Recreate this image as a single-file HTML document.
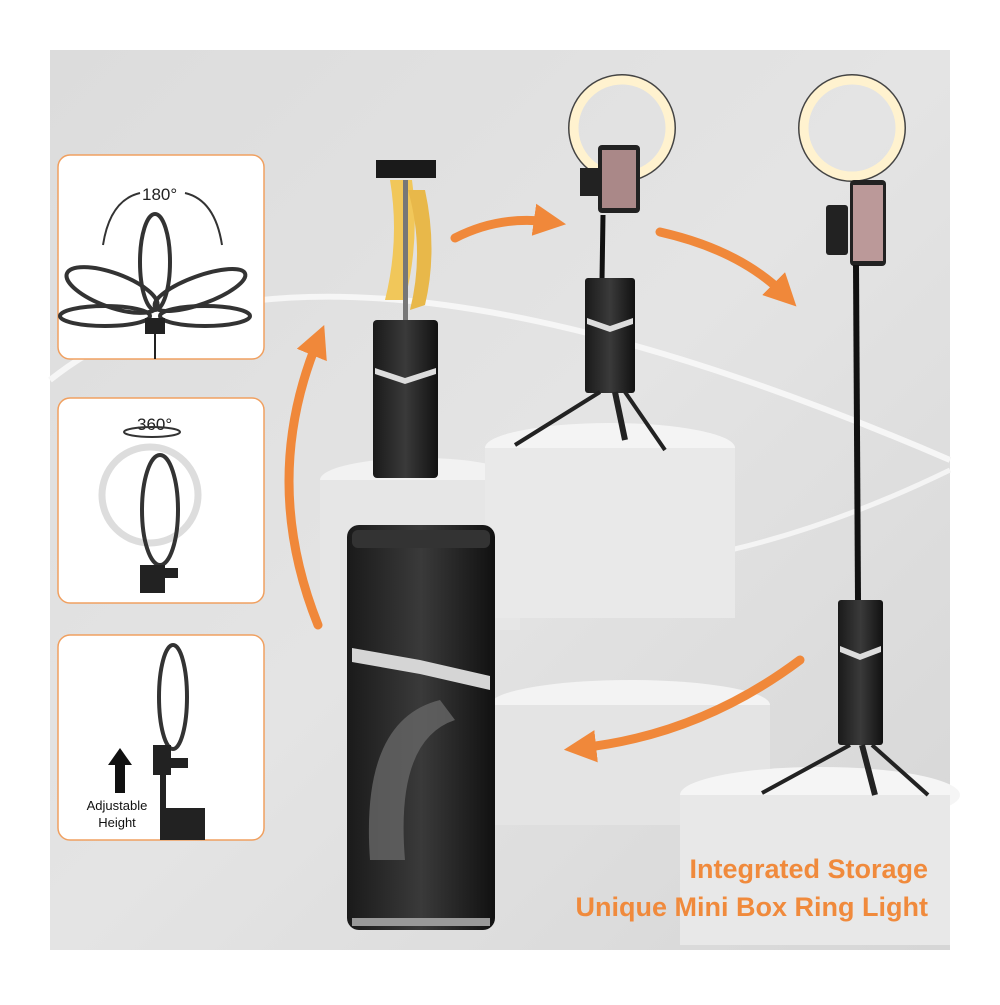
<!DOCTYPE html>
<html><head><style>
body{margin:0;width:1000px;height:1000px;background:#fff;overflow:hidden;font-family:"Liberation Sans",sans-serif}
</style></head><body>
<svg width="1000" height="1000" viewBox="0 0 1000 1000" xmlns="http://www.w3.org/2000/svg">
<defs>
<linearGradient id="bg" x1="0" y1="0" x2="1" y2="1"><stop offset="0" stop-color="#dcdcdc"/><stop offset="0.5" stop-color="#e4e4e4"/><stop offset="1" stop-color="#d6d6d6"/></linearGradient>
<linearGradient id="box" x1="0" y1="0" x2="1" y2="0"><stop offset="0" stop-color="#1a1a1a"/><stop offset="0.5" stop-color="#3a3a3a"/><stop offset="1" stop-color="#111"/></linearGradient>
<marker id="ah" viewBox="0 0 10 10" refX="5" refY="5" markerWidth="3.6" markerHeight="3.6" orient="auto"><path d="M0,0L10,5L0,10z" fill="#f0883a"/></marker>
</defs>
<rect x="50" y="50" width="900" height="900" fill="url(#bg)"/>
<path d="M50,380 Q300,180 950,460" stroke="#f6f6f6" stroke-width="6" fill="none"/>
<path d="M330,520 Q600,640 950,470" stroke="#f4f4f4" stroke-width="5" fill="none"/>
<ellipse cx="420" cy="480" rx="100" ry="22" fill="#f2f2f2"/>
<rect x="320" y="480" width="200" height="150" fill="#e6e6e6"/>
<ellipse cx="610" cy="448" rx="125" ry="25" fill="#f4f4f4"/>
<rect x="485" y="448" width="250" height="170" fill="#e9e9e9"/>
<ellipse cx="630" cy="705" rx="140" ry="25" fill="#f3f3f3"/>
<rect x="490" y="705" width="280" height="120" fill="#e4e4e4"/>
<ellipse cx="820" cy="795" rx="140" ry="28" fill="#f5f5f5"/>
<rect x="680" y="795" width="270" height="150" fill="#e8e8e8"/>
<rect x="58" y="155" width="206" height="204" rx="12" fill="#fff" stroke="#f0a060" stroke-width="1.5"/>
<rect x="58" y="398" width="206" height="205" rx="12" fill="#fff" stroke="#f0a060" stroke-width="1.5"/>
<rect x="58" y="635" width="206" height="205" rx="12" fill="#fff" stroke="#f0a060" stroke-width="1.5"/>
<text x="142" y="200" font-size="17" fill="#222">180°</text>
<path d="M140,193 Q110,200 103,245" stroke="#333" stroke-width="2" fill="none"/>
<path d="M185,193 Q215,200 222,245" stroke="#333" stroke-width="2" fill="none"/>
<g fill="none" stroke="#333" stroke-width="4">
<ellipse cx="155" cy="262" rx="15" ry="48"/>
<ellipse cx="112" cy="290" rx="48" ry="17" transform="rotate(20 112 290)"/>
<ellipse cx="200" cy="290" rx="48" ry="14" transform="rotate(-20 200 290)"/>
<ellipse cx="105" cy="316" rx="45" ry="10"/>
<ellipse cx="205" cy="316" rx="45" ry="10"/>
</g>
<rect x="145" y="318" width="20" height="16" fill="#222"/><line x1="155" y1="334" x2="155" y2="359" stroke="#222" stroke-width="2"/>
<text x="137" y="430" font-size="17" fill="#222">360°</text>
<ellipse cx="152" cy="432" rx="28" ry="5" stroke="#333" stroke-width="2" fill="none"/>
<ellipse cx="150" cy="495" rx="48" ry="48" stroke="#ddd" stroke-width="7" fill="none"/>
<ellipse cx="160" cy="510" rx="18" ry="55" stroke="#333" stroke-width="4" fill="none"/>
<rect x="140" y="565" width="25" height="28" fill="#222"/><rect x="160" y="568" width="18" height="10" fill="#222"/>
<ellipse cx="173" cy="697" rx="14" ry="52" stroke="#333" stroke-width="4" fill="none"/>
<rect x="153" y="745" width="18" height="30" fill="#222"/><rect x="170" y="758" width="18" height="10" fill="#222"/>
<rect x="160" y="775" width="6" height="35" fill="#222"/>
<rect x="160" y="808" width="45" height="32" fill="#222"/>
<path d="M115,793 L115,765 L108,765 L120,748 L132,765 L125,765 L125,793z" fill="#111"/>
<text x="117" y="810" font-size="13" fill="#111" text-anchor="middle">Adjustable</text>
<text x="117" y="827" font-size="13" fill="#111" text-anchor="middle">Height</text>
<g stroke="#f0883a" stroke-width="9" fill="none" stroke-linecap="round" marker-end="url(#ah)">
<path d="M318,625 Q260,480 318,340"/>
<path d="M455,238 Q500,215 550,222"/>
<path d="M660,232 Q740,250 785,295"/>
<path d="M800,660 Q700,735 580,748"/>
</g>
<rect x="376" y="160" width="60" height="18" fill="#1a1a1a"/>
<path d="M390,180 Q400,240 385,300 L405,300 Q420,240 412,180z" fill="#f1c75a"/>
<path d="M408,190 Q425,250 410,310 L425,305 Q438,250 425,190z" fill="#e8b84a"/>
<rect x="403" y="180" width="5" height="140" fill="#777"/>
<rect x="373" y="320" width="65" height="158" rx="4" fill="url(#box)"/>
<path d="M375,368 L405,378 L436,368 L436,374 L405,384 L375,374z" fill="#ddd"/>
<ellipse cx="622" cy="128" rx="53" ry="53" stroke="#444" stroke-width="2" fill="none"/>
<ellipse cx="622" cy="128" rx="48" ry="48" stroke="#fff2cf" stroke-width="9" fill="none"/>
<rect x="598" y="145" width="42" height="68" rx="4" fill="#222"/><rect x="602" y="150" width="34" height="58" fill="#a88"/>
<rect x="580" y="168" width="18" height="28" fill="#222"/>
<line x1="603" y1="215" x2="602" y2="280" stroke="#111" stroke-width="5"/>
<rect x="585" y="278" width="50" height="115" rx="3" fill="url(#box)"/>
<path d="M587,318 L610,326 L633,318 L633,324 L610,332 L587,324z" fill="#ddd"/>
<line x1="600" y1="392" x2="515" y2="445" stroke="#222" stroke-width="4"/>
<line x1="615" y1="392" x2="625" y2="440" stroke="#222" stroke-width="6"/>
<line x1="625" y1="392" x2="665" y2="450" stroke="#222" stroke-width="4"/>
<ellipse cx="852" cy="128" rx="53" ry="53" stroke="#444" stroke-width="2" fill="none"/>
<ellipse cx="852" cy="128" rx="48" ry="48" stroke="#fff2cf" stroke-width="9" fill="none"/>
<rect x="850" y="180" width="36" height="86" rx="4" fill="#222"/><rect x="853" y="185" width="30" height="76" fill="#b99"/>
<rect x="826" y="205" width="22" height="50" rx="3" fill="#222"/>
<line x1="856" y1="265" x2="858" y2="600" stroke="#111" stroke-width="6"/>
<rect x="838" y="600" width="45" height="145" rx="3" fill="url(#box)"/>
<path d="M840,646 L860,654 L881,646 L881,652 L860,660 L840,652z" fill="#ddd"/>
<line x1="850" y1="745" x2="762" y2="793" stroke="#222" stroke-width="4"/>
<line x1="862" y1="745" x2="875" y2="795" stroke="#222" stroke-width="6"/>
<line x1="872" y1="745" x2="928" y2="795" stroke="#222" stroke-width="4"/>
<rect x="347" y="525" width="148" height="405" rx="12" fill="url(#box)"/>
<rect x="352" y="530" width="138" height="18" rx="6" fill="#333"/>
<path d="M352,648 L420,660 L490,676 L490,690 L420,674 L352,662z" fill="#d5d5d5"/>
<path d="M370,860 Q360,720 440,700 L455,720 Q395,740 405,860z" fill="#666" opacity="0.8"/>
<rect x="352" y="918" width="138" height="8" fill="#999"/>
<text x="928" y="878" font-size="27" font-weight="bold" fill="#f08a3c" text-anchor="end">Integrated Storage</text>
<text x="928" y="916" font-size="27" font-weight="bold" fill="#f08a3c" text-anchor="end">Unique Mini Box Ring Light</text>
</svg>
</body></html>
